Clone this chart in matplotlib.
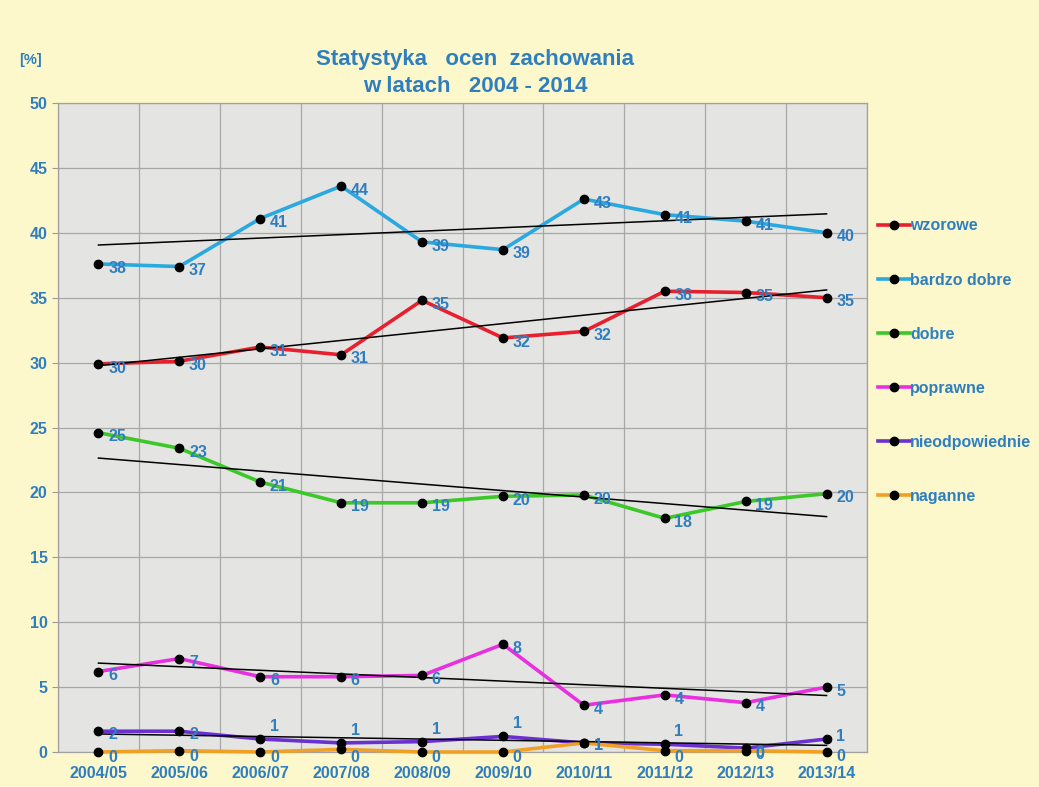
import numpy as np
import matplotlib
matplotlib.use("Agg")
import matplotlib.pyplot as plt

years = ["2004/05", "2005/06", "2006/07", "2007/08", "2008/09",
         "2009/10", "2010/11", "2011/12", "2012/13", "2013/14"]

wzorowe = [29.9, 30.1, 31.2, 30.6, 34.8, 31.9, 32.4, 35.5, 35.4, 35.0]
bardzo_dobre = [37.6, 37.4, 41.1, 43.6, 39.3, 38.7, 42.6, 41.4, 40.9, 40.0]
dobre = [24.6, 23.4, 20.8, 19.2, 19.2, 19.7, 19.8, 18.0, 19.3, 19.9]
poprawne = [6.2, 7.2, 5.8, 5.8, 5.9, 8.3, 3.6, 4.4, 3.8, 5.0]
nieodpowiednie = [1.6, 1.6, 1.0, 0.7, 0.8, 1.2, 0.7, 0.6, 0.3, 1.0]
naganne = [0.0, 0.1, 0.0, 0.2, 0.0, 0.0, 0.7, 0.1, 0.1, 0.0]

series_names = ["wzorowe", "bardzo dobre", "dobre", "poprawne", "nieodpowiednie", "naganne"]
series_values = [wzorowe, bardzo_dobre, dobre, poprawne, nieodpowiednie, naganne]
series_colors = ["#e8202e", "#2aa8e0", "#3cc828", "#e830e0", "#6a30d0", "#f0a024"]
trend_for = [True, True, True, True, True, False]

yticks = list(range(0, 51, 5))

txt_color = "#2f7fc0"
bg = "#fdf8cc"

# vertical label offsets (points) per series, for readability as in the reference
label_dy = {
    "nieodpowiednie": [-2, -2, 9, 9, 9, 9, -2, 9, -3, 2],
    "naganne": [-4, -4, -4, -6, -4, -4, -2, -5, -3, -3],
}

plt.rcParams['font.family'] = ['Liberation Sans', 'DejaVu Sans']

fig = plt.figure(figsize=(10.39, 7.87), dpi=100, facecolor=bg)
ax = fig.add_axes([58/1039, 1-752/787, (867-58)/1039, (752-103)/787])
ax.set_facecolor("#e4e4e2")

x = np.arange(len(years))
ax.set_xlim(-0.5, len(years) - 0.5)
ax.set_ylim(0, 50)

for yv in yticks:
    ax.axhline(yv, color="#a8a8a8", lw=0.9, zorder=1)
for xv in np.arange(-0.5, len(years), 1.0):
    ax.axvline(xv, color="#a8a8a8", lw=0.9, zorder=1)

for name, vals, col, tr in zip(series_names, series_values, series_colors, trend_for):
    vals = np.array(vals)
    ax.plot(x, vals, color=col, lw=2.6, marker="o", markersize=6,
            markerfacecolor="black", markeredgecolor="black", zorder=3,
            label=name, clip_on=False)
    if tr:
        p = np.polyfit(x, vals, 1)
        ax.plot(x[[0, -1]], np.polyval(p, x[[0, -1]]), color="black", lw=1.1, zorder=4)
    dys = label_dy.get(name, [-3] * len(vals))
    for xi, v, dy in zip(x, vals, dys):
        ax.annotate(f"{v:.0f}", (xi, v), xytext=(7, dy), textcoords="offset points",
                    ha="left", va="center", color=txt_color, fontsize=11.5,
                    fontweight="bold", zorder=5, annotation_clip=False)

ax.set_yticks(yticks)
ax.set_xticks(x)
ax.set_xticklabels(years)
ax.tick_params(axis="both", colors="#9a9a9a", labelcolor=txt_color, labelsize=11.5,
               length=4, width=0.8)
ax.tick_params(axis="x", length=0, pad=10)
for lab in ax.get_xticklabels() + ax.get_yticklabels():
    lab.set_fontweight("bold")
for s in ax.spines.values():
    s.set_color("#a0a0a0")
    s.set_linewidth(0.9)

fig.text(475/1039, 1-60/787, "Statystyka   ocen  zachowania", ha="center", va="center",
         color=txt_color, fontsize=16, fontweight="bold")
fig.text(475/1039, 1-86/787, "w latach   2004 - 2014", ha="center", va="center",
         color=txt_color, fontsize=16, fontweight="bold")
fig.text(30/1039, 1-60/787, "[%]", ha="center", va="center",
         color=txt_color, fontsize=10.5, fontweight="bold")

leg = fig.legend(loc="upper left", bbox_to_anchor=(872/1039, 1-212/787), frameon=False,
                 handlelength=2.0, handletextpad=0.0, labelspacing=2.45,
                 prop={"size": 11.5, "weight": "bold"}, borderaxespad=0)
for t in leg.get_texts():
    t.set_color(txt_color)

fig.savefig("out.png", dpi=100, facecolor=bg)
